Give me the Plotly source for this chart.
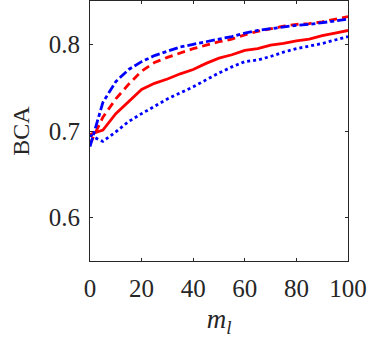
import plotly.graph_objects as go

m_l = [0, 5, 10, 15, 20, 25, 30, 35, 40, 45, 50, 55, 60, 65, 70, 75, 80, 85, 90, 95, 100]
red_solid = [0.696, 0.701, 0.720, 0.734, 0.748, 0.755, 0.760, 0.766, 0.771, 0.778, 0.784,
             0.788, 0.793, 0.795, 0.799, 0.801, 0.804, 0.806, 0.810, 0.813, 0.816]
blue_dot = [0.695, 0.688, 0.699, 0.711, 0.720, 0.729, 0.737, 0.744, 0.751, 0.759, 0.767,
            0.774, 0.780, 0.782, 0.786, 0.791, 0.795, 0.798, 0.801, 0.805, 0.809]
red_dash = [0.685, 0.716, 0.737, 0.754, 0.769, 0.779, 0.785, 0.790, 0.795, 0.799, 0.803,
            0.806, 0.811, 0.815, 0.818, 0.821, 0.823, 0.824, 0.826, 0.829, 0.832]
blue_dashdot = [0.682, 0.733, 0.757, 0.771, 0.780, 0.787, 0.792, 0.797, 0.800, 0.803, 0.806,
                0.809, 0.813, 0.816, 0.818, 0.820, 0.822, 0.823, 0.825, 0.827, 0.829]
x_ticks = [0, 20, 40, 60, 80, 100]
y_ticks = [0.6, 0.7, 0.8]
y_ticklabels = ["0.6", "0.7", "0.8"]

fig = go.Figure()
fig.add_trace(go.Scatter(x=m_l, y=red_solid, mode="lines",
                         line=dict(color="#ff0000", width=2.8)))
fig.add_trace(go.Scatter(x=m_l, y=blue_dot, mode="lines",
                         line=dict(color="#0000ff", width=2.8, dash="dot")))
fig.add_trace(go.Scatter(x=m_l, y=red_dash, mode="lines",
                         line=dict(color="#ff0000", width=2.8, dash="8px,5px")))
fig.add_trace(go.Scatter(x=m_l, y=blue_dashdot, mode="lines",
                         line=dict(color="#0000ff", width=2.8, dash="9px,3px,4px,3px")))

serif = "Liberation Serif, Times New Roman, serif"
axis_common = dict(showline=True, linecolor="#262626", linewidth=1, mirror="ticks",
                   ticks="inside", ticklen=3, tickcolor="#262626", showgrid=False,
                   zeroline=False,
                   tickfont=dict(family=serif, size=25, color="#262626"))

fig.update_xaxes(range=[0, 100], tickvals=x_ticks, ticklabelstandoff=5,
                 title=dict(text="<i>m</i><sub><i>l</i></sub>",
                            font=dict(family=serif, size=27, color="#262626"),
                            standoff=8),
                 **axis_common)
fig.update_yaxes(range=[0.55, 0.85], tickvals=y_ticks, ticktext=y_ticklabels,
                 ticklabelstandoff=4,
                 title=dict(text="BCA",
                            font=dict(family=serif, size=24, color="#262626"),
                            standoff=12),
                 **axis_common)

fig.update_layout(width=374, height=342, showlegend=False,
                  margin=dict(l=90, r=26, t=1, b=81),
                  plot_bgcolor="white", paper_bgcolor="white")

fig.write_html("out.html", config={"displayModeBar": False},
               post_script="document.body.style.margin='0';")
